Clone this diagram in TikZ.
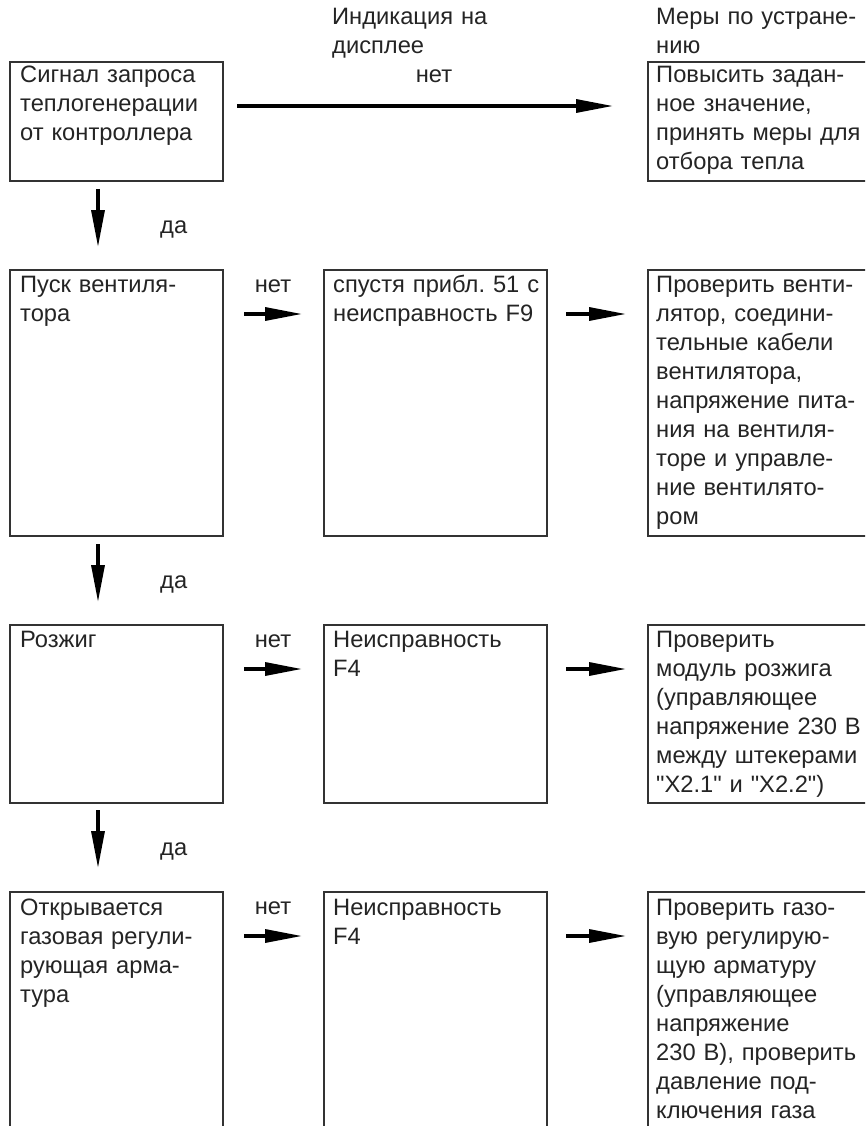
\documentclass[tikz,border=0pt]{standalone}
\usepackage{fontspec}
\newfontfamily\lsans{Liberation Sans}
\usetikzlibrary{arrows.meta}
\definecolor{ink}{gray}{0.14}
\definecolor{edge}{gray}{0.2}
\newcommand\bodyfnt{\lsans\fontsize{23.7}{29}\selectfont\frenchspacing}
\begin{document}
\begin{tikzpicture}[x=1pt,y=1pt,
  box/.style={draw=edge, line width=2pt, inner sep=0pt, anchor=north west, minimum width=#1},
  box/.default=213pt,
  txt/.style={anchor=base west, inner sep=0pt, text width=240pt, align=left, font=\bodyfnt, text=ink},
  lbl/.style={inner sep=0pt, font=\bodyfnt, text=ink},
  arr/.style={line width=3.3pt, black, -{Triangle[length=37pt,width=13pt]}},
]
\useasboundingbox (0,0) rectangle (865,-1126);
\clip (0,0) rectangle (865,-1126);

% headers
\node[txt] (h1) at (332,-25) {Индикация на\\дисплее};
\node[txt] (h2) at (656,-25) {Меры по устране-\\нию};

% row 1
\node[box, minimum height=119pt] (l1) at (9,-61) {};
\node[box=222pt, minimum height=119pt] (r1) at (647,-61) {};
% row 2
\node[box, minimum height=266pt] (l2) at (9,-269) {};
\node[box=223pt, minimum height=266pt] (m2) at (323,-269) {};
\node[box=222pt, minimum height=266pt] (r2) at (647,-269) {};
% row 3
\node[box, minimum height=178pt] (l3) at (9,-624) {};
\node[box=223pt, minimum height=178pt] (m3) at (323,-624) {};
\node[box=222pt, minimum height=178pt] (r3) at (647,-624) {};
% row 4
\node[box, minimum height=270pt] (l4) at (9,-891) {};
\node[box=223pt, minimum height=270pt] (m4) at (323,-891) {};
\node[box=222pt, minimum height=270pt] (r4) at (647,-891) {};

% texts
\node[txt] (l1t) at ([xshift=11,yshift=-22]l1.north west) {Сигнал запроса\\теплогенерации\\от контроллера};
\node[txt] (r1t) at ([xshift=9,yshift=-22]r1.north west) {Повысить задан-\\ное значение,\\принять меры для\\отбора тепла};
\node[txt] (l2t) at ([xshift=11,yshift=-23]l2.north west) {Пуск вентиля-\\тора};
\node[txt] (m2t) at ([xshift=10,yshift=-23]m2.north west) {спустя прибл. 51 с\\неисправность F9};
\node[txt] (r2t) at ([xshift=9,yshift=-23]r2.north west) {Проверить венти-\\лятор, соедини-\\тельные кабели\\вентилятора,\\напряжение пита-\\ния на вентиля-\\торе и управле-\\ние вентилято-\\ром};
\node[txt] (l3t) at ([xshift=11,yshift=-23]l3.north west) {Розжиг};
\node[txt] (m3t) at ([xshift=10,yshift=-23]m3.north west) {Неисправность\\F4};
\node[txt] (r3t) at ([xshift=9,yshift=-23]r3.north west) {Проверить\\модуль розжига\\(управляющее\\напряжение 230 В\\между штекерами\\"X2.1" и "X2.2")};
\node[txt] (l4t) at ([xshift=11,yshift=-24]l4.north west) {Открывается\\газовая регули-\\рующая арма-\\тура};
\node[txt] (m4t) at ([xshift=10,yshift=-24]m4.north west) {Неисправность\\F4};
\node[txt] (r4t) at ([xshift=9,yshift=-24]r4.north west) {Проверить газо-\\вую регулирую-\\щую арматуру\\(управляющее\\напряжение\\230 В), проверить\\давление под-\\ключения газа};

% horizontal arrows
\draw[arr, shorten <=13pt, shorten >=34pt] ([yshift=-45]l1.north east) -- ([yshift=-45]r1.north west);
\node[lbl, anchor=base] (n1) at (434,-83) {нет};

\foreach \r in {2,3,4}{
  \draw[arr, shorten <=20pt, shorten >=21pt] ([yshift=-45]l\r.north east) -- ([yshift=-45]m\r.north west);
  \draw[arr, shorten <=18pt, shorten >=21pt] ([yshift=-45]m\r.north east) -- ([yshift=-45]r\r.north west);
  \node[lbl, anchor=base] (n\r) at ([yshift=-23]l\r.north east -| 273,0) {нет};
}

% vertical arrows
\draw[arr, shorten <=7pt, shorten >=22pt] ([xshift=-18.5]l1.south) -- ([xshift=-18.5]l2.north);
\draw[arr, shorten <=7pt, shorten >=22pt] ([xshift=-18.5]l2.south) -- ([xshift=-18.5]l3.north);
\draw[arr, shorten <=6pt, shorten >=23pt] ([xshift=-18.5]l3.south) -- ([xshift=-18.5]l4.north);
\node[lbl, anchor=base west] (d1) at (160,-233) {да};
\node[lbl, anchor=base west] (d2) at (160,-588) {да};
\node[lbl, anchor=base west] (d3) at (160,-855) {да};
\end{tikzpicture}
\end{document}
